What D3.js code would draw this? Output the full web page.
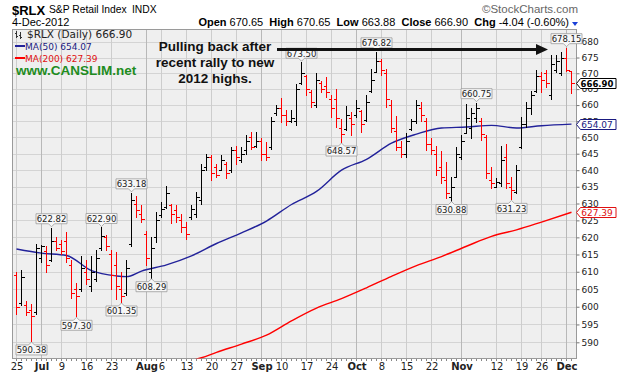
<!DOCTYPE html>
<html>
<head>
<meta charset="utf-8">
<script src="https://cdn.jsdelivr.net/npm/d3@7"></script>
<style>
	body { margin: 0; background: #fff; }
	svg { display: block; font-family: 'DejaVu Sans', sans-serif; }
</style>
</head>
<body>
<svg></svg>
<script>
// trading days, Jun 25 - Dec 4 2012
const days = [
	'06-25','06-26','06-27','06-28','06-29',
	'07-02','07-03','07-05','07-06','07-09','07-10','07-11','07-12','07-13','07-16','07-17','07-18','07-19','07-20','07-23','07-24','07-25','07-26','07-27','07-30','07-31',
	'08-01','08-02','08-03','08-06','08-07','08-08','08-09','08-10','08-13','08-14','08-15','08-16','08-17','08-20','08-21','08-22','08-23','08-24','08-27','08-28','08-29','08-30','08-31',
	'09-04','09-05','09-06','09-07','09-10','09-11','09-12','09-13','09-14','09-17','09-18','09-19','09-20','09-21','09-24','09-25','09-26','09-27','09-28',
	'10-01','10-02','10-03','10-04','10-05','10-08','10-09','10-10','10-11','10-12','10-15','10-16','10-17','10-18','10-19','10-22','10-23','10-24','10-25','10-26','10-31',
	'11-01','11-02','11-05','11-06','11-07','11-08','11-09','11-12','11-13','11-14','11-15','11-16','11-19','11-20','11-21','11-23','11-26','11-27','11-28','11-29','11-30',
	'12-03','12-04'
];

const opens = [
	609, 601, 600.5, 599, 598.5, 614, 616, 613.5, 619, 618,
	619, 612, 605, 605, 610, 606, 608, 617, 620, 615,
	612, 605, 604, 618, 630, 627, 621, 610, 620, 626.5,
	629, 629.5, 628, 625, 623, 626, 627, 631, 641, 644,
	641, 640, 642, 640, 646, 643, 646, 650, 647.5, 649,
	645, 647, 657.5, 659, 657, 655, 655, 667, 669, 664,
	660, 667, 666, 662, 662, 653, 652.5, 656, 657, 658,
	655.5, 664.5, 670.5, 674, 670, 660, 652, 647, 645, 652.5,
	655, 659, 655, 648, 645, 641, 637, 632, 638, 644,
	651.5, 653, 656, 655, 650, 637, 635, 636, 644, 635,
	633.5, 647, 654, 659, 664.5, 669, 670, 663, 671, 670,
	675, 670.65
];
const highs = [
	609.9, 610.4, 601.6, 600.9, 618.2, 617.9, 617.6, 622.82, 620, 619.1,
	621.5, 613.3, 606.9, 614.7, 613.3, 614.5, 616.2, 622.9, 620.6, 616.2,
	615.7, 609.9, 613.3, 633.18, 632.2, 629.5, 622, 620, 627.5, 630.3,
	635.1, 630, 629.5, 627, 624.5, 629.5, 633.3, 642, 645, 644.5,
	642, 644.5, 642.5, 647, 647.5, 647, 650.6, 651.6, 651.6, 649.7,
	648.5, 656.3, 660, 662.2, 658.5, 658.5, 666.7, 673.5, 669.3, 664.6,
	670, 667.7, 668.8, 663, 665.1, 655.8, 659.6, 657.8, 661.5, 658.4,
	663, 671.4, 676.82, 674.6, 671.4, 661.5, 656.7, 649, 651.2, 655.8,
	661.5, 661, 656, 649.7, 647.5, 645.9, 642.5, 637.9, 647, 650.6,
	660.3, 659, 660.75, 655.9, 650.6, 640.9, 637.6, 647.5, 648, 638,
	641.5, 656.3, 661, 664.3, 671, 670.5, 671, 675.7, 675.7, 676.8,
	678.15, 670.65
];
const lows = [
	597.9, 600.4, 597.8, 590.38, 597.9, 612.8, 609.9, 613.2, 616.2, 615.2,
	612.8, 602.4, 597.3, 604.6, 606.6, 604.6, 607.3, 616.2, 616.2, 605.1,
	602.3, 601.35, 603.3, 617.6, 625.9, 624.6, 612, 608.29, 618.5, 626,
	628.6, 624.1, 624.6, 621.5, 619.6, 625.5, 626, 630, 640, 637.1,
	638, 640, 637.6, 639.5, 642, 642.5, 645, 646.4, 647, 643,
	643, 646.5, 657, 654.7, 653.8, 654.7, 653.8, 666.6, 663, 659.4,
	659.4, 664, 662.5, 656.3, 653.2, 648.57, 652.2, 650.6, 656.3, 651.6,
	655.2, 664, 670.3, 669.3, 659.4, 651.6, 646, 644, 644, 652.2,
	654.4, 655.2, 646, 645, 638.5, 636, 631.5, 630.88, 637.9, 643.5,
	651.2, 649.7, 654.7, 649.1, 637.6, 634.5, 634.8, 635.2, 634.5, 631.23,
	633, 646.6, 653.2, 657.1, 664, 664, 665.7, 662, 670.3, 669.3,
	670.6, 663.88
];
const closes = [
	600, 608.5, 598.5, 597.5, 617, 617.6, 612, 619, 617, 616,
	614, 604, 603, 611, 608, 610, 614, 620.5, 617.5, 609,
	606, 603, 611, 631, 628, 625.5, 614, 617, 625, 628.5,
	633, 627, 626, 623, 621, 628.5, 632, 640, 644, 639,
	638.5, 643, 639, 646, 644, 645, 649, 647, 649, 645,
	644, 655, 659, 657, 655, 656, 665, 670, 665, 661,
	668, 665, 664, 659, 656, 651, 657, 654, 659, 654,
	661, 668, 674, 671, 662, 653, 647, 645, 649, 655,
	660, 657, 648, 646, 640, 638, 633, 635, 645, 649,
	656, 657.5, 659, 651, 639, 636, 636.5, 643, 636, 634,
	640, 654, 659, 663, 669, 668, 667, 673, 674, 675,
	670.94, 666.90
];
const priorClose = 606;

const ma50Days = ['06-25','07-02','07-10','07-17','07-24','07-26','07-31','08-07','08-14','08-21','08-28','09-05','09-12','09-19','09-26','10-03','10-10','10-17','10-24','11-02','11-09','11-16','11-26','12-04'];
const ma50 = [616.6, 615.4, 614.7, 610.3, 608.8, 608.6, 610.2, 612, 614.6, 618.2, 621.3, 624.8, 629.7, 633.6, 640, 643.3, 648.2, 651, 652.9, 653.2, 653.7, 652.9, 653.6, 654.07];
const ma200Days = ['08-14','08-16','08-21','08-28','09-05','09-12','09-19','09-26','10-03','10-10','10-17','10-24','11-02','11-09','11-16','11-26','12-04'];
const ma200 = [584.9, 585.7, 587.2, 589.5, 592.0, 596.0, 599.6, 602.3, 605.4, 608.7, 611.8, 614.4, 617.4, 620.3, 622.2, 624.5, 627.39];

const priceTicks = [590, 595, 600, 605, 610, 615, 620, 625, 630, 635, 640, 645, 650, 655, 660, 665, 670, 675, 680];
const tickDays = ['06-25','07-02','07-09','07-16','07-23','08-01','08-06','08-13','08-20','08-27','09-04','09-10','09-17','09-24','10-01','10-08','10-15','10-22','11-01','11-12','11-19','11-26','12-03'];
const tickLabels = ['25','Jul','9','16','23','Aug','6','13','20','27','Sep','10','17','24','Oct','8','15','22','Nov','12','19','26','Dec'];
const monthLabels = ['Jul','Aug','Sep','Oct','Nov','Dec'];

const highLabelDays = ['07-05','07-19','07-27','09-14','10-05','11-06','12-03'];
const lowLabelDays = ['06-28','07-12','07-25','08-02','09-26','10-26','11-15'];
const noteLines = ['Pulling back after', 'recent rally to new', '2012 highs.'];

const svg = d3.select('svg')
	.attr('width', 619)
	.attr('height', 378);

const plot = { left: 12.5, top: 29.5, right: 576.5, bottom: 358.5 };
const red = '#ff0000',
	navy = '#22229a';

const xScale = d3.scalePoint()
	.domain(days)
	.range([16.5, 571.5]);

const yScale = d3.scaleLog()
	.domain([585.5, 684])
	.range([plot.bottom, plot.top]);

const py = v => Math.round(yScale(v)) + 0.5;
const fmt = d3.format('.2f');

const data = days.map((day, i) => ({
	day,
	open: opens[i],
	high: highs[i],
	low: lows[i],
	close: closes[i],
	up: closes[i] >= (i ? closes[i - 1] : priorClose)
}));

// Background and grid
svg.append('rect')
	.attr('x', plot.left)
	.attr('y', plot.top)
	.attr('width', plot.right - plot.left)
	.attr('height', plot.bottom - plot.top)
	.attr('fill', '#efefef');

const grid = svg.append('g').attr('shape-rendering', 'crispEdges');
grid.selectAll('.hgrid').data(priceTicks).join('line')
	.attr('class', 'hgrid')
	.attr('x1', plot.left).attr('x2', plot.right)
	.attr('y1', d => py(d)).attr('y2', d => py(d))
	.attr('stroke', '#d4d4d4');
grid.selectAll('.vgrid').data(tickDays).join('line')
	.attr('class', 'vgrid')
	.attr('x1', d => xScale(d)).attr('x2', d => xScale(d))
	.attr('y1', plot.top).attr('y2', plot.bottom)
	.attr('stroke', (d, i) => monthLabels.includes(tickLabels[i]) ? '#b8b8b8' : '#cdcdcd');

// daily ticks under the plot
grid.selectAll('.dtick').data(days).join('line')
	.attr('class', 'dtick')
	.attr('x1', d => xScale(d)).attr('x2', d => xScale(d))
	.attr('y1', plot.bottom).attr('y2', plot.bottom + 2)
	.attr('stroke', '#888');

svg.append('rect')
	.attr('x', plot.left)
	.attr('y', plot.top)
	.attr('width', plot.right - plot.left)
	.attr('height', plot.bottom - plot.top)
	.attr('fill', 'none')
	.attr('stroke', '#9a9a9a')
	.attr('shape-rendering', 'crispEdges');

// Axes
const yAxis = d3.axisRight(yScale)
	.tickValues(priceTicks)
	.tickFormat(d3.format('d'))
	.tickSize(3)
	.tickPadding(2);
const yAxisG = svg.append('g')
	.attr('transform', `translate(${plot.right}, 0)`)
	.call(yAxis);
yAxisG.select('.domain').remove();
yAxisG.selectAll('text').attr('font-size', 9).attr('fill', '#222').attr('font-family', 'DejaVu Sans');
yAxisG.selectAll('line').attr('stroke', '#777');

const xAxis = d3.axisBottom(xScale)
	.tickValues(tickDays)
	.tickFormat((d, i) => tickLabels[i])
	.tickSize(0)
	.tickPadding(4);
const xAxisG = svg.append('g')
	.attr('transform', `translate(0, ${plot.bottom})`)
	.call(xAxis);
xAxisG.select('.domain').remove();
xAxisG.selectAll('text')
	.attr('font-size', 10)
	.attr('fill', '#222')
	.attr('font-family', 'DejaVu Sans')
	.attr('font-weight', (d, i) => monthLabels.includes(tickLabels[i]) ? 'bold' : 'normal');

// Moving averages
svg.append('clipPath').attr('id', 'clip')
	.append('rect')
	.attr('x', plot.left).attr('y', plot.top)
	.attr('width', plot.right - plot.left).attr('height', plot.bottom - plot.top);

const maLine = d3.line()
	.x(d => xScale(d[0]))
	.y(d => yScale(d[1]))
	.curve(d3.curveMonotoneX);

svg.append('path')
	.attr('d', maLine(d3.zip(ma200Days, ma200)))
	.attr('clip-path', 'url(#clip)')
	.attr('fill', 'none')
	.attr('stroke', red)
	.attr('stroke-width', 1.4);

svg.append('path')
	.attr('d', maLine(d3.zip(ma50Days, ma50)))
	.attr('clip-path', 'url(#clip)')
	.attr('fill', 'none')
	.attr('stroke', navy)
	.attr('stroke-width', 1.4);

// OHLC bars
const bars = svg.append('g').attr('shape-rendering', 'crispEdges');
const bar = bars.selectAll('g').data(data).join('g')
	.attr('stroke', d => d.up ? '#000' : red);
bar.append('line')
	.attr('x1', d => xScale(d.day)).attr('x2', d => xScale(d.day))
	.attr('y1', d => Math.round(yScale(d.high))).attr('y2', d => Math.round(yScale(d.low)) + 1);
bar.append('line')
	.attr('x1', d => xScale(d.day) - 3).attr('x2', d => xScale(d.day))
	.attr('y1', d => py(d.open)).attr('y2', d => py(d.open));
bar.append('line')
	.attr('x1', d => xScale(d.day)).attr('x2', d => xScale(d.day) + 3)
	.attr('y1', d => py(d.close)).attr('y2', d => py(d.close));

// High / low labels
const labelBox = (cx, tip, up) => {
	const w = 31, h = 10, gap = 4;
	const x0 = cx - w / 2, x1 = cx + w / 2;
	if (up) {
		const y1 = tip - gap, y0 = y1 - h;
		return { path: `M${x0},${y0}H${x1}V${y1}H${cx + 3}L${cx},${tip - 1}L${cx - 3},${y1}H${x0}Z`, ty: y0 + 8.3 };
	}
	const y0 = tip + gap, y1 = y0 + h;
	return { path: `M${x0},${y0}H${cx - 3}L${cx},${tip + 1}L${cx + 3},${y0}H${x1}V${y1}H${x0}Z`, ty: y0 + 8.3 };
};

const labels = highLabelDays.map(day => ({ day, value: highs[days.indexOf(day)], up: true }))
	.concat(lowLabelDays.map(day => ({ day, value: lows[days.indexOf(day)], up: false })));

const labelG = svg.append('g').selectAll('g').data(labels).join('g');
labelG.each(function (d) {
	const b = labelBox(xScale(d.day), yScale(d.value), d.up);
	const g = d3.select(this);
	g.append('path')
		.attr('d', b.path)
		.attr('fill', '#f7f7f7')
		.attr('stroke', '#9c9c9c')
		.attr('stroke-width', 0.8);
	g.append('text')
		.attr('x', xScale(d.day))
		.attr('y', b.ty)
		.attr('text-anchor', 'middle')
		.attr('font-size', 8.5)
		.attr('fill', '#222')
		.text(fmt(d.value));
});

// Last value tags on the right axis
const tags = [
	{ value: closes[closes.length - 1], color: '#000', weight: 'bold', size: 8.5 },
	{ value: ma50[ma50.length - 1], color: '#1a1a80', weight: 'normal', size: 9 },
	{ value: ma200[ma200.length - 1], color: '#e01010', weight: 'normal', size: 9 }
];
const tagG = svg.append('g').selectAll('g').data(tags).join('g');
tagG.append('path')
	.attr('d', d => {
		const yy = Math.round(yScale(d.value)) + 0.5;
		return `M${plot.right},${yy}L${plot.right + 4},${yy - 5}H616V${yy + 5}H${plot.right + 4}Z`;
	})
	.attr('fill', '#fff')
	.attr('stroke', d => d.color);
tagG.append('text')
	.attr('x', 597)
	.attr('y', d => yScale(d.value) + 3.5)
	.attr('text-anchor', 'middle')
	.attr('font-size', d => d.size)
	.attr('font-weight', d => d.weight)
	.attr('fill', d => d.color)
	.text(d => fmt(d.value));

// Header
svg.append('text')
	.attr('x', 12).attr('y', 15)
	.attr('font-family', 'Liberation Sans, Arial, sans-serif')
	.attr('font-size', 13).attr('font-weight', 'bold')
	.text('$RLX');
svg.append('text')
	.attr('x', 49).attr('y', 13)
	.attr('font-family', 'Liberation Sans, Arial, sans-serif')
	.attr('font-size', 10.3)
	.text('S&P Retail Index');
svg.append('text')
	.attr('x', 132).attr('y', 13)
	.attr('font-family', 'Liberation Sans, Arial, sans-serif')
	.attr('font-size', 10.3)
	.text('INDX');
svg.append('text')
	.attr('x', 12).attr('y', 26)
	.attr('font-family', 'Liberation Sans, Arial, sans-serif')
	.attr('font-size', 11)
	.text('4-Dec-2012');
svg.append('text')
	.attr('x', 578).attr('y', 13)
	.attr('text-anchor', 'end')
	.attr('font-family', 'Liberation Sans, Arial, sans-serif')
	.attr('font-size', 11.5)
	.attr('fill', '#666')
	.text('\u00a9StockCharts.com');

const quote = [['Open', ' 670.65  '], ['High', ' 670.65  '], ['Low', ' 663.88  '], ['Close', ' 666.90  '], ['Chg', ' -4.04 (-0.60%)']];
const quoteText = svg.append('text')
	.attr('x', 569).attr('y', 26)
	.attr('text-anchor', 'end')
	.attr('font-family', 'Liberation Sans, Arial, sans-serif')
	.attr('font-size', 11)
	.attr('xml:space', 'preserve');
quote.forEach(([k, v]) => {
	quoteText.append('tspan').attr('font-weight', 'bold').text(k);
	quoteText.append('tspan').text(v);
});
svg.append('path')
	.attr('d', 'M572,22 L578,22 L575,26 Z')
	.attr('fill', '#1a3fd8');

// Legend
const legend = svg.append('g');
legend.append('path')
	.attr('d', 'M16.5,31V38M14.5,33H16.5M16.5,36H18M20.5,32V39M19,35H20.5M20.5,37H22')
	.attr('stroke', '#333')
	.attr('fill', 'none')
	.attr('shape-rendering', 'crispEdges');
legend.append('text')
	.attr('x', 27).attr('y', 38)
	.attr('font-size', 10.5)
	.attr('fill', '#222')
	.text('$RLX (Daily) 666.90');
legend.append('line')
	.attr('x1', 15).attr('x2', 25).attr('y1', 46).attr('y2', 46)
	.attr('stroke', navy).attr('stroke-width', 2);
legend.append('text')
	.attr('x', 25).attr('y', 49.5)
	.attr('font-size', 9)
	.attr('fill', '#1a1a80')
	.text(`MA(50) ${fmt(ma50[ma50.length - 1])}`);
legend.append('line')
	.attr('x1', 15).attr('x2', 25).attr('y1', 58).attr('y2', 58)
	.attr('stroke', red).attr('stroke-width', 2);
legend.append('text')
	.attr('x', 25).attr('y', 61.5)
	.attr('font-size', 9)
	.attr('fill', '#e01010')
	.text(`MA(200) ${fmt(ma200[ma200.length - 1])}`);
legend.append('text')
	.attr('x', 16).attr('y', 75)
	.attr('font-family', 'Liberation Sans, Arial, sans-serif')
	.attr('font-size', 13.5)
	.attr('font-weight', 'bold')
	.attr('fill', '#1e8c1e')
	.text('www.CANSLIM.net');

// Annotation
svg.append('g').selectAll('text').data(noteLines).join('text')
	.attr('x', 215)
	.attr('y', (d, i) => 51 + i * 16)
	.attr('text-anchor', 'middle')
	.attr('font-family', 'Liberation Sans, Arial, sans-serif')
	.attr('font-size', 13.5)
	.attr('font-weight', 'bold')
	.attr('fill', '#111')
	.text(d => d);

svg.append('line')
	.attr('x1', 277).attr('x2', 538)
	.attr('y1', 49.5).attr('y2', 49.5)
	.attr('stroke', '#111')
	.attr('stroke-width', 3);
svg.append('path')
	.attr('d', 'M536,44 L548,49.5 L536,55 Z')
	.attr('fill', '#111');
</script>
</body>
</html>
